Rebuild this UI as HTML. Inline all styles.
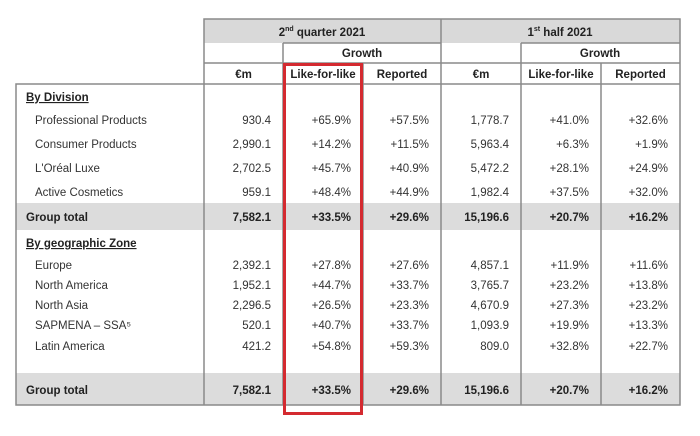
<!DOCTYPE html>
<html><head><meta charset="utf-8"><style>
html,body{margin:0;padding:0;background:#fff;width:700px;height:436px;overflow:hidden}
svg text{font-family:"Liberation Sans",sans-serif;font-size:11.5px;fill:#333}
.b{font-weight:bold;fill:#222}
</style></head><body>
<svg id="t" width="700" height="436" xmlns="http://www.w3.org/2000/svg">
<rect x="204" y="19" width="476" height="24" fill="#d9d9d9"/>
<rect x="16" y="203" width="664" height="27" fill="#dcdcdc"/>
<rect x="16" y="373" width="664" height="32" fill="#dcdcdc"/>
<g stroke="#8a8a8a" stroke-width="1.5" fill="none">
<polyline points="204,84 204,19 680,19 680,405 16,405 16,84 680,84"/>
<line x1="204" y1="84" x2="204" y2="405"/>
<line x1="441" y1="19" x2="441" y2="405"/>
<line x1="283" y1="43" x2="441" y2="43"/>
<line x1="521" y1="43" x2="680" y2="43"/>
<line x1="204" y1="63" x2="680" y2="63"/>
<line x1="283" y1="43" x2="283" y2="405"/>
<line x1="363" y1="63" x2="363" y2="405"/>
<line x1="521" y1="43" x2="521" y2="405"/>
<line x1="601" y1="63" x2="601" y2="405"/>
</g>
<text class="b" x="322" y="36" text-anchor="middle">2<tspan font-size="7" dy="-5">nd</tspan><tspan dy="5"> quarter 2021</tspan></text>
<text class="b" x="560" y="36" text-anchor="middle">1<tspan font-size="7" dy="-5">st</tspan><tspan dy="5"> half 2021</tspan></text>
<text class="b" x="362" y="57" text-anchor="middle">Growth</text>
<text class="b" x="600" y="57" text-anchor="middle">Growth</text>
<g id="cols"></g>
<g id="body"></g>
<rect x="284.5" y="64.5" width="77" height="349" fill="none" stroke="#d42a30" stroke-width="3"/>
</svg>
<script>
const colHeaders=["€m","Like-for-like","Reported","€m","Like-for-like","Reported"];
const labels=["By Division","Professional Products","Consumer Products","L'Oréal Luxe","Active Cosmetics","Group total","By geographic Zone","Europe","North America","North Asia","SAPMENA – SSA⁵","Latin America","Group total"];
const q2Sales=["","930.4","2,990.1","2,702.5","959.1","7,582.1","","2,392.1","1,952.1","2,296.5","520.1","421.2","7,582.1"];
const q2Lfl=["","+65.9%","+14.2%","+45.7%","+48.4%","+33.5%","","+27.8%","+44.7%","+26.5%","+40.7%","+54.8%","+33.5%"];
const q2Rep=["","+57.5%","+11.5%","+40.9%","+44.9%","+29.6%","","+27.6%","+33.7%","+23.3%","+33.7%","+59.3%","+29.6%"];
const h1Sales=["","1,778.7","5,963.4","5,472.2","1,982.4","15,196.6","","4,857.1","3,765.7","4,670.9","1,093.9","809.0","15,196.6"];
const h1Lfl=["","+41.0%","+6.3%","+28.1%","+37.5%","+20.7%","","+11.9%","+23.2%","+27.3%","+19.9%","+32.8%","+20.7%"];
const h1Rep=["","+32.6%","+1.9%","+24.9%","+32.0%","+16.2%","","+11.6%","+13.8%","+23.2%","+13.3%","+22.7%","+16.2%"];
const NS="http://www.w3.org/2000/svg";
const colL=[204,283,363,441,521,601],colR=[283,363,441,521,601,680];
const rowY=[101,124,148,172,196,221,247,269,289,309,329,350,394];
const kinds=["sec","item","item","item","item","total","sec","item","item","item","item","item","total"];
const cols=[q2Sales,q2Lfl,q2Rep,h1Sales,h1Lfl,h1Rep];
const hg=document.getElementById('cols'),bg=document.getElementById('body');
function mk(p,x,y,s,anchor,cls){const t=document.createElementNS(NS,'text');t.setAttribute('x',x);t.setAttribute('y',y);t.setAttribute('text-anchor',anchor);if(cls)t.setAttribute('class',cls);t.textContent=s;p.appendChild(t);return t;}
colHeaders.forEach((h,i)=>{const t=mk(hg,(colL[i]+colR[i])/2,78,h,'middle','b');

});
labels.forEach((l,r)=>{const k=kinds[r];
const t=mk(bg,k==='item'?35:26,rowY[r],l,'start',k==='item'?'':'b');
if(k==='sec')t.setAttribute('text-decoration','underline');


cols.forEach((c,i)=>{if(!c[r])return;const v=mk(bg,colR[i]-12,rowY[r],c[r],'end',k==='total'?'b':'');

});});
</script>
</body></html>
